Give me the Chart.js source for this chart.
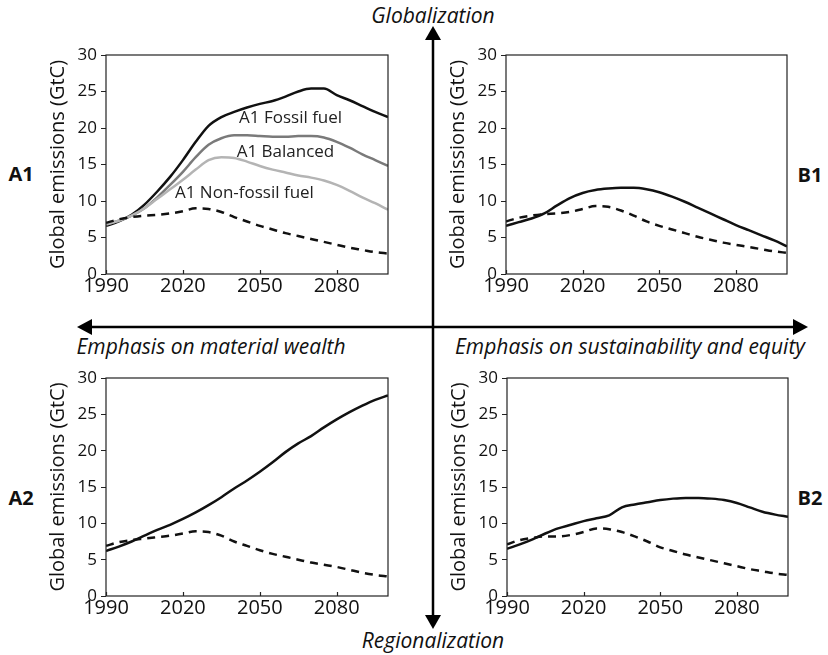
<!DOCTYPE html>
<html>
<head>
<meta charset="utf-8">
<script src="https://cdn.jsdelivr.net/npm/chart.js@4"></script>
<style>
    body { margin: 0; background: #fff; }
    #page { position: relative; width: 828px; height: 655px; overflow: hidden; font-family: 'Open Sans', sans-serif; color: #111; }
    canvas { position: absolute; }
    .txt { position: absolute; white-space: nowrap; transform: translate(-50%, -50%); line-height: 1; }
    .ital { font-style: italic; font-size: 21px; }
    .scen { font-weight: bold; font-size: 20px; }
    svg { position: absolute; left: 0; top: 0; }
</style>
</head>
<body>
<div id="page">
    <svg width="828" height="655">
        <line x1="433" y1="36" x2="433" y2="618" stroke="#000" stroke-width="2.5"/>
        <polygon points="433,26 425,40 441,40" fill="#000"/>
        <polygon points="433,629 425,615 441,615" fill="#000"/>
        <line x1="88" y1="327" x2="798" y2="327" stroke="#000" stroke-width="2.5"/>
        <polygon points="77,327 92,319 92,335" fill="#000"/>
        <polygon points="808,327 793,319 793,335" fill="#000"/>
    </svg>

    <div class="txt ital" style="left:433px; top:15px;">Globalization</div>
    <div class="txt ital" style="left:433px; top:640px;">Regionalization</div>
    <div class="txt ital" style="left:211px; top:346px;">Emphasis on material wealth</div>
    <div class="txt ital" style="left:630px; top:346px;">Emphasis on sustainability and equity</div>

    <div class="txt scen" style="left:21px; top:174px;">A1</div>
    <div class="txt scen" style="left:810px; top:175px;">B1</div>
    <div class="txt scen" style="left:21px; top:498px;">A2</div>
    <div class="txt scen" style="left:810px; top:498px;">B2</div>

    <canvas id="chart-a1" width="364" height="284" style="left:36px; top:35px;"></canvas>
    <canvas id="chart-b1" width="363" height="284" style="left:436px; top:35px;"></canvas>
    <canvas id="chart-a2" width="364" height="283" style="left:36px; top:358px;"></canvas>
    <canvas id="chart-b2" width="363" height="283" style="left:437px; top:358px;"></canvas>
</div>

<script>
// Years
const years = [1990, 1995, 2000, 2005, 2010, 2015, 2020, 2025, 2030, 2035, 2040, 2045,
               2050, 2055, 2060, 2065, 2070, 2075, 2080, 2085, 2090, 2095, 2100];
const tickYears = [1990, 2020, 2050, 2080];

// A1 panel
const a1Fossil    = [6.6, 7.2, 8.1, 9.5, 11.3, 13.3, 15.6, 18.1, 20.3, 21.5, 22.2, 22.8,
                     23.3, 23.7, 24.3, 25.0, 25.4, 25.4, 24.5, 23.8, 23.0, 22.2, 21.5];
const a1Balanced  = [6.8, 7.3, 8.0, 9.0, 10.5, 12.2, 14.0, 16.0, 17.7, 18.6, 19.0, 19.0,
                     18.9, 18.8, 18.8, 18.9, 18.9, 18.7, 18.1, 17.3, 16.4, 15.6, 14.8];
const a1NonFossil = [6.8, 7.3, 8.0, 9.0, 10.3, 11.6, 12.9, 14.3, 15.6, 16.0, 15.9, 15.4,
                     14.8, 14.3, 13.9, 13.5, 13.2, 12.8, 12.2, 11.4, 10.5, 9.7, 8.8];
const a1Dashed    = [7.0, 7.5, 7.8, 8.0, 8.1, 8.3, 8.6, 9.0, 8.9, 8.5, 7.8, 7.2,
                     6.6, 6.1, 5.6, 5.2, 4.8, 4.4, 4.0, 3.6, 3.3, 3.0, 2.8];

// B1 panel
const b1Solid  = [6.6, 7.1, 7.6, 8.3, 9.4, 10.4, 11.1, 11.5, 11.7, 11.8, 11.8, 11.6,
                  11.2, 10.6, 9.9, 9.1, 8.3, 7.5, 6.7, 6.0, 5.3, 4.6, 3.8];
const b1Dashed = [7.2, 7.7, 8.0, 8.2, 8.3, 8.5, 8.9, 9.3, 9.2, 8.7, 8.0, 7.2,
                  6.6, 6.1, 5.6, 5.1, 4.7, 4.3, 4.0, 3.7, 3.4, 3.1, 2.9];

// A2 panel
const a2Solid  = [6.2, 6.8, 7.5, 8.3, 9.1, 9.8, 10.6, 11.5, 12.5, 13.6, 14.8, 15.9,
                  17.1, 18.4, 19.8, 21.0, 22.0, 23.2, 24.3, 25.3, 26.2, 27.0, 27.6];
const a2Dashed = [6.9, 7.4, 7.7, 7.9, 8.1, 8.3, 8.6, 8.9, 8.8, 8.3, 7.5, 6.9,
                  6.3, 5.8, 5.4, 5.0, 4.6, 4.3, 4.0, 3.6, 3.2, 2.9, 2.7];

// B2 panel
const b2Solid  = [6.5, 7.1, 7.8, 8.6, 9.3, 9.8, 10.3, 10.7, 11.1, 12.2, 12.6, 12.9,
                  13.2, 13.4, 13.5, 13.5, 13.4, 13.2, 12.8, 12.2, 11.6, 11.2, 10.9];
const b2Dashed = [7.1, 7.7, 8.0, 8.2, 8.2, 8.4, 8.8, 9.3, 9.2, 8.8, 8.2, 7.5,
                  6.7, 6.2, 5.7, 5.3, 4.9, 4.5, 4.1, 3.7, 3.4, 3.1, 2.9];

// In-plot labels for A1 (anchored in data units)
const a1LabelText   = ['A1 Fossil fuel', 'A1 Balanced', 'A1 Non-fossil fuel'];
const a1LabelYear   = [2062, 2060, 2044];
const a1LabelValue  = [21.4, 16.7, 11.1];

const yTitle = 'Global emissions (GtC)';

function toPoints(values) {
    return values.map((v, i) => ({ x: years[i], y: v }));
}

function solid(values, color) {
    return { data: toPoints(values), borderColor: color, borderWidth: 2.5 };
}

function dashed(values) {
    return { data: toPoints(values), borderColor: '#111', borderWidth: 2.5, borderDash: [8, 6] };
}

// draws the box around the plot, inward x ticks and text labels
const framePlugin = {
    id: 'frame',
    afterDatasetsDraw(chart, args, opts) {
        const { ctx, chartArea: a, scales } = chart;
        ctx.save();
        ctx.strokeStyle = '#222';
        ctx.lineWidth = 1.2;
        ctx.strokeRect(a.left, a.top, a.right - a.left, a.bottom - a.top);
        ctx.beginPath();
        scales.x.ticks.forEach(t => {
            const px = Math.round(scales.x.getPixelForValue(t.value)) + 0.5;
            ctx.moveTo(px, a.bottom);
            ctx.lineTo(px, a.bottom - 4);
        });
        ctx.stroke();
        if (opts.labels) {
            ctx.fillStyle = '#222';
            ctx.font = '17px "Open Sans"';
            ctx.textAlign = 'center';
            ctx.textBaseline = 'middle';
            opts.labels.text.forEach((txt, i) => {
                ctx.fillText(txt, scales.x.getPixelForValue(opts.labels.x[i]),
                             scales.y.getPixelForValue(opts.labels.y[i]));
            });
        }
        ctx.restore();
    }
};

function makePanel(id, datasets, labels) {
    new Chart(document.getElementById(id), {
        type: 'line',
        data: { datasets: datasets },
        plugins: [framePlugin],
        options: {
            responsive: false,
            animation: false,
            layout: { padding: { top: 20, right: 12, left: 0, bottom: 0 } },
            elements: {
                point: { radius: 0 },
                line: { tension: 0.4, cubicInterpolationMode: 'monotone', fill: false }
            },
            plugins: {
                legend: { display: false },
                tooltip: { enabled: false },
                frame: { labels: labels }
            },
            scales: {
                x: {
                    type: 'linear',
                    min: 1990,
                    max: 2100,
                    afterFit: s => { s.height = 45; },
                    afterBuildTicks: s => { s.ticks = tickYears.map(v => ({ value: v })); },
                    grid: { drawOnChartArea: false, drawTicks: false },
                    border: { display: false },
                    ticks: {
                        padding: 0,
                        color: '#111',
                        font: { family: 'Open Sans', size: 20 },
                        maxRotation: 0,
                        callback: v => String(v)
                    }
                },
                y: {
                    min: 0,
                    max: 30,
                    afterFit: s => { s.width = 70; },
                    grid: { drawOnChartArea: false, tickLength: 5, color: '#222' },
                    border: { display: false },
                    ticks: {
                        stepSize: 5,
                        padding: 4,
                        color: '#111',
                        font: { family: 'Open Sans', size: 17 }
                    },
                    title: {
                        display: true,
                        text: yTitle,
                        color: '#111',
                        font: { family: 'Open Sans', size: 20 },
                        padding: { top: 10, bottom: 0 }
                    }
                }
            }
        }
    });
}

makePanel('chart-a1', [
    dashed(a1Dashed),
    solid(a1NonFossil, '#b4b4b4'),
    solid(a1Balanced, '#7a7a7a'),
    solid(a1Fossil, '#111')
], { text: a1LabelText, x: a1LabelYear, y: a1LabelValue });

makePanel('chart-b1', [dashed(b1Dashed), solid(b1Solid, '#111')]);
makePanel('chart-a2', [dashed(a2Dashed), solid(a2Solid, '#111')]);
makePanel('chart-b2', [dashed(b2Dashed), solid(b2Solid, '#111')]);
</script>
</body>
</html>
